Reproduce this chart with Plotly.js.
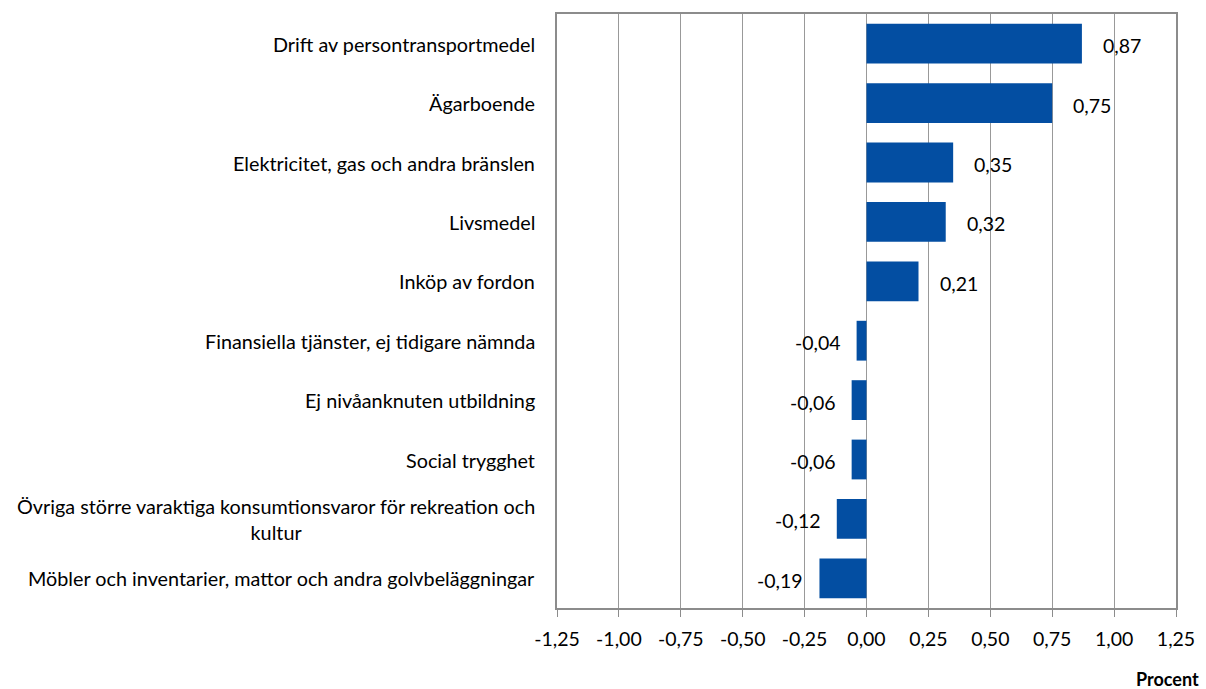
<!DOCTYPE html>
<html>
<head>
<meta charset="utf-8">
<script src="https://cdn.plot.ly/plotly-3.0.1.min.js"></script>
<style>html,body{margin:0;padding:0;background:#fff}#chart{width:1206px;height:689px}</style>
</head>
<body>
<div id="chart"></div>
<script>
const categories = [
  "Drift av persontransportmedel",
  "Ägarboende",
  "Elektricitet, gas och andra bränslen",
  "Livsmedel",
  "Inköp av fordon",
  "Finansiella tjänster, ej tidigare nämnda",
  "Ej nivåanknuten utbildning",
  "Social trygghet",
  "Övriga större varaktiga konsumtionsvaror för rekreation och<br>kultur",
  "Möbler och inventarier, mattor och andra golvbeläggningar"
];
const values = [0.87, 0.75, 0.35, 0.32, 0.21, -0.04, -0.06, -0.06, -0.12, -0.19];
const tickVals = [-1.25, -1.00, -0.75, -0.50, -0.25, 0.00, 0.25, 0.50, 0.75, 1.00, 1.25];
const axisTitle = "Procent";

const font = "Lato, 'Open Sans', sans-serif";
const fmt = v => v.toFixed(2).replace('.', ',');

const annotations = [];
categories.forEach((c, i) => {
  annotations.push({
    x: 0, xref: 'paper', xanchor: 'right', xshift: -20,
    y: c, yref: 'y', yanchor: 'middle',
    text: c, showarrow: false, align: 'center',
    font: {family: font, size: 19.8, color: '#000'}
  });
  const v = values[i];
  annotations.push({
    x: v, xref: 'x', xanchor: v >= 0 ? 'left' : 'right', xshift: v >= 0 ? 19 : -14,
    y: c, yref: 'y', yanchor: 'middle', yshift: -2,
    text: fmt(v), showarrow: false,
    font: {family: font, size: 19.5, color: '#000'}
  });
});
annotations.push({
  x: 1, xref: 'paper', xanchor: 'right', xshift: 25,
  y: 0, yref: 'paper', yanchor: 'middle', yshift: -71,
  text: '<b>' + axisTitle + '</b>', showarrow: false,
  font: {family: font, size: 18, color: '#000'}
});

const data = [{
  type: 'bar',
  orientation: 'h',
  x: values,
  y: categories,
  marker: {color: '#034EA2'},
  hoverinfo: 'x+y'
}];

const layout = {
  width: 1206, height: 689,
  margin: {l: 557, r: 30, t: 14, b: 81},
  paper_bgcolor: '#fff', plot_bgcolor: '#fff',
  separators: ', ',
  showlegend: false,
  bargap: 0.33,
  xaxis: {
    range: [-1.25, 1.25],
    tickvals: tickVals,
    ticktext: tickVals.map(fmt),
    showgrid: true, gridcolor: '#999', gridwidth: 1,
    zeroline: false,
    showline: true, linecolor: '#8c8c8c', linewidth: 2, mirror: true,
    ticks: 'outside', ticklen: 7, tickcolor: '#8c8c8c', tickwidth: 1,
    ticklabelstandoff: 6,
    tickfont: {family: font, size: 19.5, color: '#000'},
    fixedrange: true
  },
  yaxis: {
    type: 'category',
    autorange: 'reversed',
    showticklabels: false,
    showgrid: false, zeroline: false,
    showline: true, linecolor: '#8c8c8c', linewidth: 2, mirror: true,
    ticks: '',
    fixedrange: true
  },
  annotations: annotations
};

Plotly.newPlot('chart', data, layout, {displayModeBar: false, staticPlot: true});
</script>
</body>
</html>
